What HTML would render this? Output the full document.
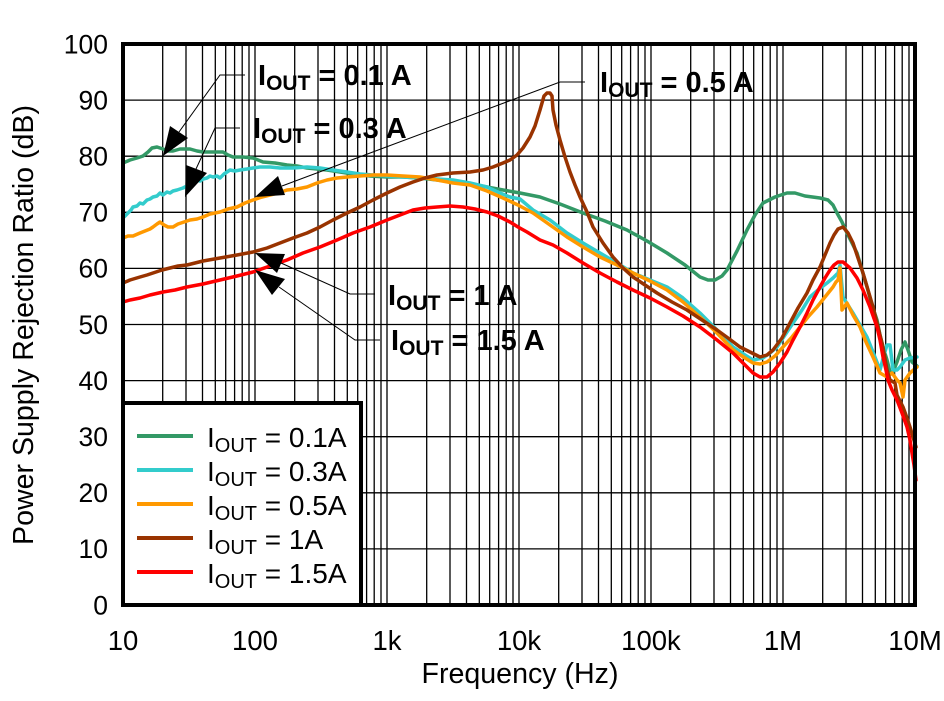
<!DOCTYPE html>
<html>
<head>
<meta charset="utf-8">
<style>
html,body{margin:0;padding:0;background:#fff;}
svg{display:block;}
text{font-family:"Liberation Sans",Arial,sans-serif;fill:#000;}
</style>
</head>
<body>
<svg width="944" height="701" viewBox="0 0 944 701" xmlns="http://www.w3.org/2000/svg">
<rect x="0" y="0" width="944" height="701" fill="#fff"/>

<!-- grid -->
<path stroke="#000" stroke-width="1.3" fill="none" d="
M162.7 44V605 M186 44V605 M202.5 44V605 M215.3 44V605 M225.7 44V605 M234.6 44V605 M242.2 44V605 M249 44V605
M255 44V605 M294.7 44V605 M318 44V605 M334.5 44V605 M347.3 44V605 M357.7 44V605 M366.6 44V605 M374.2 44V605 M381 44V605
M387 44V605 M426.7 44V605 M450 44V605 M466.5 44V605 M479.3 44V605 M489.7 44V605 M498.6 44V605 M506.2 44V605 M513 44V605
M519 44V605 M558.7 44V605 M582 44V605 M598.5 44V605 M611.3 44V605 M621.7 44V605 M630.6 44V605 M638.2 44V605 M645 44V605
M651 44V605 M690.7 44V605 M714 44V605 M730.5 44V605 M743.3 44V605 M753.7 44V605 M762.6 44V605 M770.2 44V605 M777 44V605
M783 44V605 M822.7 44V605 M846 44V605 M862.5 44V605 M875.3 44V605 M885.7 44V605 M894.6 44V605 M902.2 44V605 M909 44V605
M123 548.9H915 M123 492.8H915 M123 436.7H915 M123 380.6H915 M123 324.5H915 M123 268.4H915 M123 212.3H915 M123 156.2H915 M123 100.1H915
"/>

<!-- curves -->
<g fill="none" stroke-width="3.5" stroke-linejoin="round" stroke-linecap="round">
<polyline stroke="#339966" points="123,163 130,160 137,158 143,156 148,152 152,148 157,147 163,149 168,151 173,151 180,149 190,149 197,151 203,152 213,152 223,152 228,155 233,157 243,157 253,158 258,160 263,162 275,163 287,165 297,166 307,168 317,169 327,170 340,172 353,174 370,176 387,177 403,177 420,178 437,180 453,182 470,184 487,187 503,190 520,193 540,197 560,204 583,213 605,221 627,230 647,241 667,253 685,265 700,277 708,280 715,280 722,276 727,270 737,251 747,230 755,215 763,203 775,197 787,193 795,193 805,196 820,198 828,200 833,205 837,213 842,222 847,233 852,243 857,253 862,270 867,287 872,305 877,320 880,335 883,347 887,360 890,372 893,372 897,362 901,350 905,342 908,350 912,362 917,366"/>
<polyline stroke="#33cccc" points="123,218 127,214 131,210 133,207 137,206 140,203 143,204 147,200 150,199 153,197 157,196 160,193 163,195 167,192 170,193 173,191 177,190 180,189 183,188 187,186 190,185 193,183 197,180 200,181 203,179 207,178 210,176 213,177 217,176 220,178 224,174 227,172 230,170 235,171 240,170 247,169 253,168 260,167 270,167 280,168 293,168 307,167 320,168 333,170 347,172 360,174 373,175 387,176 403,177 420,178 437,179 453,180 470,183 487,187 500,193 510,197 520,199 533,210 550,220 567,233 583,243 600,253 617,263 633,273 650,280 667,287 683,298 700,313 717,330 733,347 745,355 753,360 763,358 770,353 777,347 785,335 793,323 802,310 810,297 818,290 827,283 833,278 838,273 840,265 843,297 848,305 853,313 860,325 867,337 873,352 880,370 884,355 887,345 890,345 893,370 897,370 900,367 905,360 910,358 917,357"/>
<polyline stroke="#ff9900" points="123,238 128,236 133,236 140,233 145,231 150,229 153,227 157,224 160,222 164,225 168,227 173,227 178,224 184,222 190,220 197,219 203,217 210,214 220,212 228,209 237,207 245,203 253,200 262,197 270,195 278,193 287,190 297,189 307,187 317,183 327,180 337,178 347,177 360,176 373,175 387,175 403,176 420,177 437,180 453,183 470,185 487,191 503,198 518,205 533,213 550,225 567,237 583,247 600,257 617,265 633,273 650,281 667,290 683,302 700,317 717,333 733,350 745,358 753,363 760,364 767,362 775,356 783,347 792,337 800,327 808,317 817,307 825,297 833,287 836,282 838,280 840,268 842,310 847,303 853,315 860,327 866,342 873,357 880,373 887,377 892,373 897,380 900,383 903,397 905,380 910,373 917,367"/>
<polyline stroke="#993300" points="123,283 130,280 140,277 147,275 153,273 162,270 170,268 178,266 187,265 203,261 220,258 237,255 253,252 267,248 280,243 293,238 307,233 320,227 333,220 347,213 360,207 373,200 387,193 400,187 413,182 425,178 437,175 453,173 470,172 483,170 493,167 503,163 510,160 517,155 523,148 530,137 535,126 540,110 544,96 547,93 550,93 552,96 553,110 556,125 560,140 565,157 570,172 575,185 580,197 587,212 593,227 603,243 613,257 623,268 633,277 645,285 657,293 672,302 687,310 702,320 717,330 728,338 740,347 750,352 760,357 767,355 773,350 782,338 790,323 798,308 807,293 813,280 820,267 825,255 830,243 834,235 838,229 843,227 848,233 853,243 858,258 863,273 868,290 873,307 878,327 883,347 887,370 890,380 895,383 897,395 903,407 907,418 910,427 913,437 916,447"/>
<polyline stroke="#ff0000" points="123,302 130,300 140,298 150,295 163,292 175,290 187,287 203,284 220,280 237,276 253,272 270,266 287,260 303,253 320,247 337,240 353,233 370,227 387,220 400,215 413,210 425,208 437,207 450,206 463,207 475,209 487,212 498,216 510,222 518,227 527,232 540,240 553,245 567,253 583,263 600,273 617,282 633,290 650,298 667,307 683,316 700,327 717,340 733,353 745,365 753,373 760,377 767,377 773,372 780,363 787,352 793,340 800,327 807,313 813,300 820,287 825,278 830,270 834,265 838,262 843,262 850,268 857,278 863,290 870,307 877,327 880,340 883,357 886,370 888,380 892,390 897,400 902,413 907,427 910,440 912,453 914,465 916,480"/>
</g>

<!-- plot frame -->
<rect x="123" y="44" width="792" height="561" fill="none" stroke="#000" stroke-width="4"/>

<!-- annotations: leaders and arrows -->
<g stroke="#000" stroke-width="1" fill="none">
<polyline points="245,75 220,75 179,132"/>
<polyline points="240,128 215,128 196,169"/>
<polyline points="585,82 560,82 282,186"/>
<polyline points="375,294 350,294 281,263"/>
<polyline points="380,340 355,340 279,287"/>
</g>
<g fill="#000">
<polygon points="170,126 188,138 163,156"/>
<polygon points="186,165 207,173 185,197"/>
<polygon points="278,176 285,195 255,197"/>
<polygon points="255,253 285,254 277,273"/>
<polygon points="255,270 285,279 272,295"/>
</g>

<g font-weight="bold" font-size="29">
<text x="258" y="85">I<tspan font-size="21" dy="5">OUT</tspan><tspan dy="-5"> = 0.1 A</tspan></text>
<text x="253" y="138">I<tspan font-size="21" dy="5">OUT</tspan><tspan dy="-5"> = 0.3 A</tspan></text>
<text x="600" y="92">I<tspan font-size="21" dy="5">OUT</tspan><tspan dy="-5"> = 0.5 A</tspan></text>
<text x="388" y="305">I<tspan font-size="21" dy="5">OUT</tspan><tspan dy="-5"> = 1 A</tspan></text>
<text x="391" y="350">I<tspan font-size="21" dy="5">OUT</tspan><tspan dy="-5"> = 1.5 A</tspan></text>
</g>

<!-- legend -->
<rect x="123" y="403" width="238" height="202" fill="#fff" stroke="#000" stroke-width="4"/>
<g stroke-width="4">
<line x1="137" y1="436" x2="193" y2="436" stroke="#339966"/>
<line x1="137" y1="470" x2="193" y2="470" stroke="#33cccc"/>
<line x1="137" y1="504" x2="193" y2="504" stroke="#ff9900"/>
<line x1="137" y1="538" x2="193" y2="538" stroke="#993300"/>
<line x1="137" y1="572" x2="193" y2="572" stroke="#ff0000"/>
</g>
<g font-size="28">
<text x="207" y="447">I<tspan font-size="20" dy="5">OUT</tspan><tspan dy="-5"> = 0.1A</tspan></text>
<text x="207" y="481">I<tspan font-size="20" dy="5">OUT</tspan><tspan dy="-5"> = 0.3A</tspan></text>
<text x="207" y="515">I<tspan font-size="20" dy="5">OUT</tspan><tspan dy="-5"> = 0.5A</tspan></text>
<text x="207" y="549">I<tspan font-size="20" dy="5">OUT</tspan><tspan dy="-5"> = 1A</tspan></text>
<text x="207" y="583">I<tspan font-size="20" dy="5">OUT</tspan><tspan dy="-5"> = 1.5A</tspan></text>
</g>

<!-- y tick labels -->
<g font-size="26.5" text-anchor="end">
<text x="108" y="53.5">100</text>
<text x="108" y="109.5">90</text>
<text x="108" y="165.5">80</text>
<text x="108" y="221.5">70</text>
<text x="108" y="277.5">60</text>
<text x="108" y="334">50</text>
<text x="108" y="390">40</text>
<text x="108" y="446">30</text>
<text x="108" y="502">20</text>
<text x="108" y="558">10</text>
<text x="108" y="614.5">0</text>
</g>

<!-- x tick labels -->
<g font-size="27.5" text-anchor="middle">
<text x="123" y="650">10</text>
<text x="255" y="650">100</text>
<text x="387" y="650">1k</text>
<text x="519" y="650">10k</text>
<text x="651" y="650">100k</text>
<text x="783" y="650">1M</text>
<text x="915" y="650">10M</text>
</g>

<!-- axis titles -->
<text x="520" y="683" font-size="28.5" text-anchor="middle" textLength="197" lengthAdjust="spacingAndGlyphs">Frequency (Hz)</text>
<text transform="translate(33,325) rotate(-90)" font-size="28.5" text-anchor="middle" textLength="440" lengthAdjust="spacingAndGlyphs">Power Supply Rejection Ratio (dB)</text>
</svg>
</body>
</html>
